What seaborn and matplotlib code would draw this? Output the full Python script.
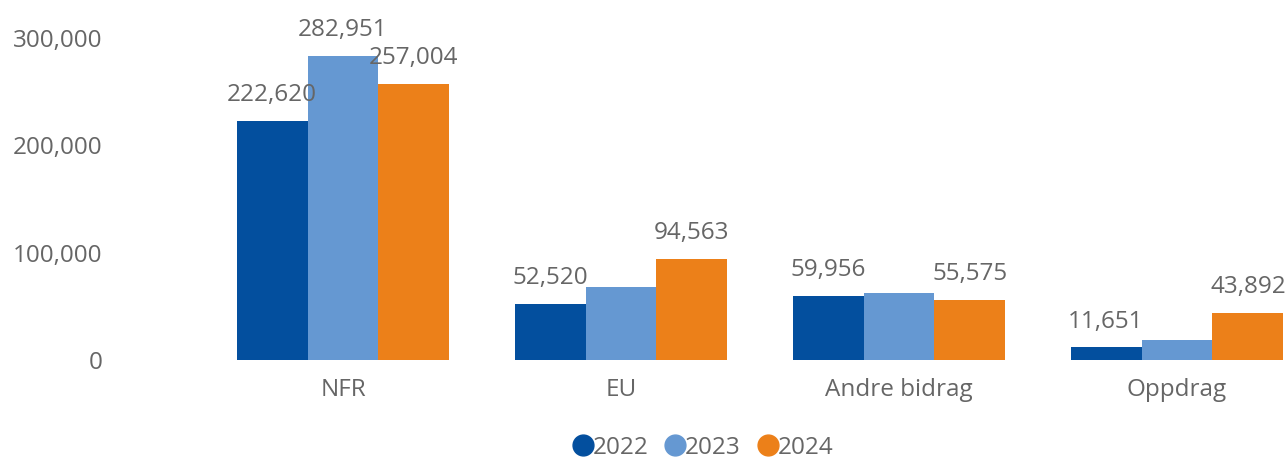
import matplotlib
matplotlib.use("Agg")
import matplotlib.pyplot as plt
from matplotlib.lines import Line2D
import seaborn as sns
import pandas as pd

categories = ["NFR", "EU", "Andre bidrag", "Oppdrag"]
years = ["2022", "2023", "2024"]
values_2022 = [222620, 52520, 59956, 11651]
values_2023 = [282951, 68000, 62000, 18600]
values_2024 = [257004, 94563, 55575, 43892]
# data labels shown in the reference (None = not shown)
labels_2022 = ["222,620", "52,520", "59,956", "11,651"]
labels_2023 = ["282,951", None, None, None]
labels_2024 = ["257,004", "94,563", "55,575", "43,892"]
yticks = [0, 100000, 200000, 300000]
ytick_labels = ["0", "100,000", "200,000", "300,000"]

colors = ["#034F9E", "#6598D2", "#EC8019"]

rows = []
for yr, vals in zip(years, [values_2022, values_2023, values_2024]):
    for c, v in zip(categories, vals):
        rows.append({"category": c, "year": yr, "value": v})
df = pd.DataFrame(rows)

sns.set_style("white")
plt.rcParams["font.family"] = ["Open Sans", "DejaVu Sans"]
text_color = "#666666"
fs = 17.5

fig = plt.figure(figsize=(12.87, 4.58), dpi=100)
ax = fig.add_axes([204 / 1287, 98 / 458, 1112 / 1287, 322 / 458])
sns.barplot(data=df, x="category", y="value", hue="year", palette=colors,
            width=0.766, gap=0, saturation=1, ax=ax, legend=False,
            order=categories, hue_order=years, linewidth=0, edgecolor="none")

ax.set_ylim(0, 300000)
ax.set_xlim(-0.5, 3.5)
ax.set_yticks(yticks)
ax.set_yticklabels(ytick_labels)
ax.tick_params(axis="y", pad=73, labelsize=fs, labelcolor=text_color, length=0)
ax.tick_params(axis="x", pad=13, labelsize=fs, labelcolor=text_color, length=0)
ax.set_xlabel("")
ax.set_ylabel("")
for s in ax.spines.values():
    s.set_visible(False)

for cont, labs in zip(ax.containers, [labels_2022, labels_2023, labels_2024]):
    ax.bar_label(cont, labels=[l if l is not None else "" for l in labs],
                 padding=10, fontsize=fs, color=text_color, clip_on=False)

handles = [Line2D([0], [0], marker="o", linestyle="", markersize=15,
                  markerfacecolor=c, markeredgecolor=c) for c in colors]
fig.legend(handles, years, loc="center", bbox_to_anchor=(702 / 1287, 10 / 458),
           ncol=3, frameon=False, fontsize=fs, labelcolor=text_color,
           handletextpad=-0.1, columnspacing=0.6, handlelength=1.0,
           borderpad=0, borderaxespad=0)

fig.savefig("out.png", dpi=100)
